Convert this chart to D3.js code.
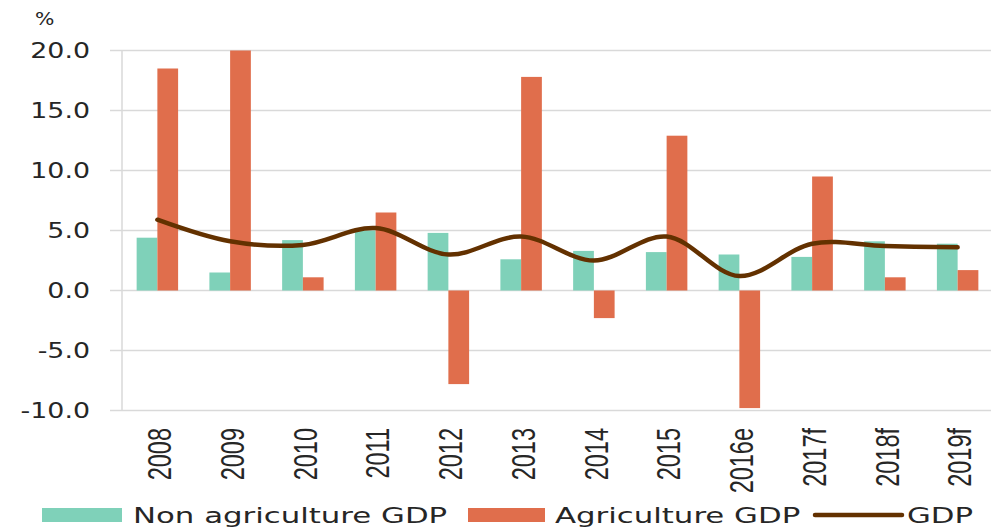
<!DOCTYPE html>
<html>
<head>
<meta charset="utf-8">
<script src="https://cdn.jsdelivr.net/npm/d3@7"></script>
<style>
  body { margin: 0; background: #fff; }
  text { font-family: "DejaVu Sans", Verdana, sans-serif; fill: #262626; }
  .xlab { font-family: "Liberation Sans", Arial, sans-serif; }
</style>
</head>
<body>
<svg width="991" height="529"></svg>
<script>
// Chart data
var years = ['2008', '2009', '2010', '2011', '2012', '2013', '2014', '2015', '2016e', '2017f', '2018f', '2019f'];
var nonAgriGDP = [4.4, 1.5, 4.2, 5.0, 4.8, 2.6, 3.3, 3.2, 3.0, 2.8, 4.1, 3.9];
var agriGDP = [18.5, 20.0, 1.1, 6.5, -7.8, 17.8, -2.3, 12.9, -9.8, 9.5, 1.1, 1.7];
var totalGDP = [5.9, 4.1, 3.8, 5.2, 3.0, 4.5, 2.5, 4.5, 1.2, 3.9, 3.7, 3.6];
var yTicks = [-10, -5, 0, 5, 10, 15, 20];
var seriesNames = ['Non agriculture GDP', 'Agriculture GDP', 'GDP'];

var svg = d3.select('svg');
var stretch = 1.4; // the reference is drawn wide, text is stretched horizontally

var plot = {l: 121, r: 994, t: 50.5, b: 410.5};

var x = d3.scaleBand().domain(years).range([plot.l, plot.r]);
var bw = x.bandwidth();
var x1 = d3.scaleBand().domain(['non', 'agri']).range([bw * 0.215, bw * 0.785]);
var y = d3.scaleLinear().domain([-10, 20]).range([plot.b, plot.t]);

var colors = {non: '#7fd1b9', agri: '#e06e4c', gdp: '#633100'};

// Gridlines
svg.append('g').selectAll('line')
    .data(yTicks)
    .enter().append('line')
    .attr('x1', 110).attr('x2', plot.r)
    .attr('y1', function(d) { return y(d); })
    .attr('y2', function(d) { return y(d); })
    .style('stroke', '#d9d9d9')
    .style('stroke-width', 1.5);

// Vertical axis line
svg.append('line')
    .attr('x1', 122).attr('x2', 122)
    .attr('y1', y(20)).attr('y2', y(-10))
    .style('stroke', '#d9d9d9')
    .style('stroke-width', 1.5);

// Y tick labels (plain hyphen for negatives)
svg.append('g').selectAll('g')
    .data(yTicks)
    .enter().append('g')
    .attr('transform', function(d) { return 'translate(' + [90, y(d)] + ') scale(1.22,1)'; })
    .append('text')
    .attr('text-anchor', 'end')
    .attr('dy', '0.36em')
    .style('font-size', '22px')
    .text(function(d) { return d.toFixed(1); });

svg.append('g')
    .attr('transform', 'translate(35,25) scale(1.2,1)')
    .append('text')
    .style('font-size', '17px')
    .text('%');

// Bars
var rows = years.map(function(yr, i) { return {year: yr, non: nonAgriGDP[i], agri: agriGDP[i]}; });

var groups = svg.append('g').selectAll('g')
    .data(rows)
    .enter().append('g')
    .attr('transform', function(d) { return 'translate(' + x(d.year) + ',0)'; });

groups.selectAll('rect')
    .data(function(d) { return ['non', 'agri'].map(function(k) { return {key: k, value: d[k]}; }); })
    .enter().append('rect')
    .attr('x', function(d) { return x1(d.key); })
    .attr('width', x1.bandwidth())
    .attr('y', function(d) { return y(Math.max(0, d.value)); })
    .attr('height', function(d) { return Math.abs(y(d.value) - y(0)); })
    .style('fill', function(d) { return colors[d.key]; });

// GDP line
var line = d3.line()
    .x(function(d, i) { return x(years[i]) + bw / 2; })
    .y(function(d) { return y(d); })
    .curve(d3.curveCatmullRom.alpha(0.5));

svg.append('path')
    .datum(totalGDP)
    .attr('d', line)
    .style('fill', 'none')
    .style('stroke', colors.gdp)
    .style('stroke-width', 4.5)
    .style('stroke-linecap', 'round');

// X labels (rotated)
svg.append('g').selectAll('g')
    .data(years)
    .enter().append('g')
    .attr('transform', function(d) { return 'translate(' + [x(d) + bw / 2 + 2, 428] + ') scale(' + stretch + ',1) rotate(-90)'; })
    .append('text')
    .attr('class', 'xlab')
    .attr('text-anchor', 'end')
    .attr('dy', '0.36em')
    .style('font-size', '23.5px')
    .text(function(d) { return d; });

// Legend
var legend = [
    {name: seriesNames[0], type: 'rect', color: colors.non, sx: 42, sw: 80, tx: 133},
    {name: seriesNames[1], type: 'rect', color: colors.agri, sx: 468, sw: 77, tx: 555},
    {name: seriesNames[2], type: 'line', color: colors.gdp, sx: 815, sw: 87, tx: 907}
];

legend.forEach(function(l) {
    if (l.type === 'rect') {
        svg.append('rect')
            .attr('x', l.sx).attr('y', 508)
            .attr('width', l.sw).attr('height', 14)
            .style('fill', l.color);
    } else {
        svg.append('line')
            .attr('x1', l.sx).attr('x2', l.sx + l.sw)
            .attr('y1', 515).attr('y2', 515)
            .style('stroke', l.color)
            .style('stroke-width', 4.5)
            .style('stroke-linecap', 'round');
    }
    svg.append('g')
        .attr('transform', 'translate(' + [l.tx, 523] + ') scale(' + stretch + ',1)')
        .append('text')
        .style('font-size', '22px')
        .text(l.name);
});
</script>
</body>
</html>
